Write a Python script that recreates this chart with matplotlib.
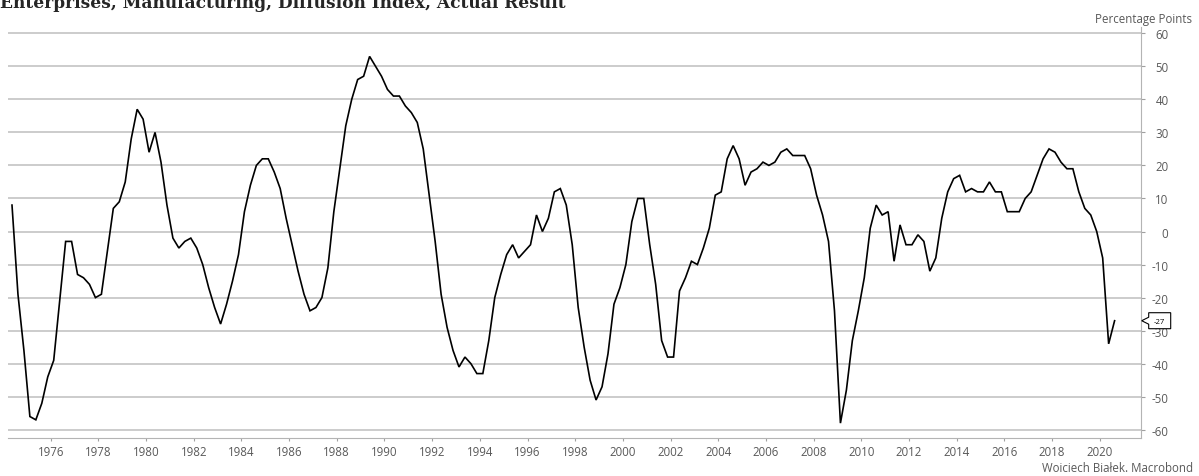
import matplotlib
matplotlib.use("Agg")
import matplotlib.pyplot as plt
import matplotlib.transforms as mtransforms
from matplotlib.patches import Polygon
import numpy as np

# ---------------- data ----------------
start_year = 1974.375          # first observation: 1974 Q2, quarterly afterwards
values = [
    8, -19, -36, -56, -57, -52, -44, -39, -21, -3,
    -3, -13, -14, -16, -20, -19, -6, 7, 9, 15,
    28, 37, 34, 24, 30, 21, 8, -2, -5, -3,
    -2, -5, -10, -17, -23, -28, -22, -15, -7, 6,
    14, 20, 22, 22, 18, 13, 4, -4, -12, -19,
    -24, -23, -20, -11, 6, 19, 32, 40, 46, 47,
    53, 50, 47, 43, 41, 41,
    38, 36, 33, 25, 11, -3, -19, -29, -36, -41,
    -38, -40, -43, -43, -33, -20, -13, -7, -4, -8,
    -6, -4, 5, 0, 4, 12, 13, 8, -4, -23,
    -35, -45, -51, -47, -37, -22, -17, -10, 3, 10,
    10, -4, -16, -33, -38, -38, -18, -14, -9, -10,
    -5, 1, 11, 12, 22, 26, 22, 14, 18, 19,
    21, 20, 21, 24, 25, 23, 23,
    23, 19, 11, 5, -3, -24, -58, -48, -33, -24,
    -14, 1, 8, 5, 6, -9, 2, -4, -4, -1,
    -3, -12, -8, 4, 12, 16, 17, 12, 13, 12,
    12, 15, 12, 12, 6, 6, 6, 10, 12, 17,
    22, 25, 24, 21, 19, 19, 12, 7, 5, 0,
    -8, -34, -27,
]
xtick_years = list(range(1976, 2021, 2))
ytick_values = list(range(-60, 61, 10))
title = "Enterprises, Manufacturing, Diffusion Index, Actual Result"
unit_label = "Percentage Points"
credit = "Woiciech Białek. Macrobond"

years = start_year + 0.25 * np.arange(len(values))

# ---------------- style ----------------
plt.rcParams['font.family'] = ['Open Sans', 'DejaVu Sans']
plt.rcParams['axes.unicode_minus'] = False

W, H = 1199, 477
fig = plt.figure(figsize=(W / 100, H / 100), dpi=100)
ax_l, ax_r, ax_t, ax_b = 8.3, 1140.7, 28, 439
ax = fig.add_axes([ax_l / W, (H - ax_b) / H, (ax_r - ax_l) / W, (ax_b - ax_t) / H])

ax.plot(years, values, color='black', lw=1.2, zorder=3, solid_joinstyle='miter')

ax.set_xlim(1974.22, 2021.72)
ax.set_ylim(-62.5, 61.9)

ax.set_yticks(ytick_values)
ax.set_yticklabels([str(v) for v in ytick_values])
ax.set_xticks(xtick_years)
ax.set_xticklabels([str(y) for y in xtick_years])

ax.yaxis.tick_right()
ax.yaxis.grid(True, color='#c8c8c8', lw=1.3)
ax.xaxis.grid(False)
ax.set_axisbelow(True)

for s in ('top', 'left'):
    ax.spines[s].set_visible(False)
for s in ('right', 'bottom'):
    ax.spines[s].set_color('#b4b4b4')
    ax.spines[s].set_linewidth(0.8)

tick_grey = '#595959'
ax.tick_params(axis='y', which='major', right=True, left=False, length=3, width=0.8,
               color='#a0a0a0', labelcolor=tick_grey, labelsize=8.3, pad=17.0)
ax.tick_params(axis='x', which='major', length=2.5, width=0.8, color='#a0a0a0',
               labelcolor=tick_grey, labelsize=8.3, pad=2.3)
for lbl in ax.get_yticklabels():
    lbl.set_horizontalalignment('right')

# title (partly cut at the top of the image, as in the reference)
t = fig.text(0.0, 1 - 7.5 / H, title, family='DejaVu Serif', fontweight='bold',
             fontsize=12, color='#262626', ha='left', va='baseline')
fig.canvas.draw()
w = t.get_window_extent().width
t.set_fontsize(12 * 563 / w)

fig.text(1192 / W, 1 - 19.5 / H, unit_label, ha='right', va='center',
         fontsize=8.3, color=tick_grey)
fig.text(1192.7 / W, 1 - 469 / H, credit, ha='right', va='center',
         fontsize=8.3, color=tick_grey)

# last-value callout
blend = mtransforms.blended_transform_factory(ax.transAxes, ax.transData)
tip = blend.transform((1.0, values[-1]))
tip_x, tip_y = tip[0] + 1.0, tip[1]
verts = [(0, 0), (7, 3.5), (7, 8), (29, 8), (29, -8), (7, -8), (7, -3.5)]
poly = Polygon(verts, closed=True, fc='white', ec='black', lw=0.8,
               transform=mtransforms.Affine2D().translate(tip_x, tip_y))
fig.add_artist(poly)
fig.text(0, 0, str(values[-1]), fontsize=5.5, color='black', ha='center',
         va='center_baseline',
         transform=mtransforms.Affine2D().translate(tip_x + 18, tip_y))

fig.savefig('out.png', dpi=100)
